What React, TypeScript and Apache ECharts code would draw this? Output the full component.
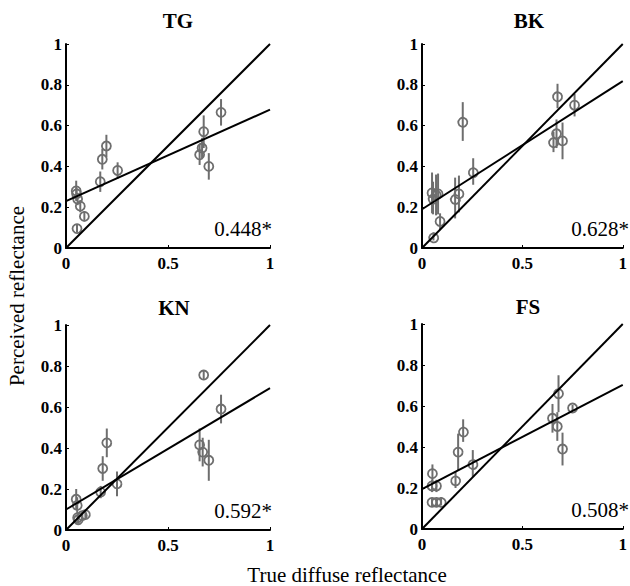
import React, { useEffect, useRef } from "react";
import * as echarts from "echarts";

const panelNames = ["TG", "BK", "KN", "FS"];
const slopeLabels = ["0.448*", "0.628*", "0.592*", "0.508*"];
const fitSlope = [0.448, 0.628, 0.592, 0.508];
const fitIntercept = [0.23, 0.19, 0.1, 0.195];
const xTicks = [0, 0.5, 1];
const yTicks = [0, 0.2, 0.4, 0.6, 0.8, 1];

const tgX = [0.05, 0.052, 0.057, 0.07, 0.09, 0.054, 0.168, 0.178, 0.198, 0.253, 0.655, 0.667, 0.675, 0.7, 0.76];
const tgY = [0.28, 0.265, 0.24, 0.205, 0.155, 0.095, 0.325, 0.435, 0.5, 0.38, 0.457, 0.49, 0.57, 0.4, 0.665];
const tgErr = [0.05, 0.03, 0.03, 0.03, 0.025, 0.02, 0.05, 0.05, 0.055, 0.04, 0.05, 0.05, 0.08, 0.065, 0.065];

const bkX = [0.05, 0.055, 0.07, 0.08, 0.09, 0.057, 0.165, 0.184, 0.203, 0.255, 0.655, 0.67, 0.675, 0.7, 0.76];
const bkY = [0.27, 0.245, 0.26, 0.265, 0.13, 0.057, 0.245, 0.265, 0.62, 0.375, 0.52, 0.56, 0.745, 0.525, 0.7];
const bkErr = [0.1, 0.08, 0.1, 0.1, 0.04, 0.02, 0.1, 0.09, 0.095, 0.065, 0.05, 0.07, 0.06, 0.09, 0.055];

const knX = [0.05, 0.055, 0.06, 0.08, 0.095, 0.057, 0.17, 0.18, 0.2, 0.25, 0.655, 0.67, 0.675, 0.7, 0.76];
const knY = [0.15, 0.12, 0.05, 0.07, 0.075, 0.06, 0.185, 0.3, 0.425, 0.225, 0.415, 0.38, 0.756, 0.34, 0.59];
const knErr = [0.05, 0.04, 0.02, 0.02, 0.02, 0.02, 0.03, 0.06, 0.07, 0.06, 0.08, 0.07, 0.02, 0.1, 0.07];

const fsX = [0.052, 0.05, 0.072, 0.05, 0.072, 0.095, 0.167, 0.18, 0.205, 0.253, 0.65, 0.674, 0.68, 0.7, 0.75];
const fsY = [0.27, 0.21, 0.21, 0.13, 0.13, 0.135, 0.24, 0.375, 0.48, 0.32, 0.54, 0.5, 0.66, 0.39, 0.59];
const fsErr = [0.045, 0.03, 0.03, 0.02, 0.02, 0.02, 0.04, 0.09, 0.055, 0.065, 0.07, 0.07, 0.09, 0.08, 0.015];

const panelX = [tgX, bkX, knX, fsX];
const panelY = [tgY, bkY, knY, fsY];
const panelErr = [tgErr, bkErr, knErr, fsErr];

const FONT = "'Liberation Serif', 'Times New Roman', serif";
const GRAY = "#6e6e6e";

const grids = [
  { left: 66, top: 44, width: 204, height: 204 },
  { left: 422, top: 44, width: 205, height: 204 },
  { left: 66, top: 325, width: 204, height: 205 },
  { left: 422, top: 324, width: 205, height: 205 },
];

const titlePos = [
  [178, 21],
  [529, 21],
  [174, 308],
  [528, 307],
];

const fmt = (v: number) => String(Math.round(v * 10) / 10);

export default function App() {
  const ref = useRef<HTMLDivElement>(null);
  useEffect(() => {
    if (!ref.current) return;
    const chart = echarts.init(ref.current, undefined, { renderer: "svg" });
    const xAxis: any[] = [];
    const yAxis: any[] = [];
    const series: any[] = [];
    const graphic: any[] = [];
    grids.forEach((g, i) => {
      xAxis.push({
        type: "value",
        gridIndex: i,
        min: 0,
        max: 1,
        interval: 0.5,
        splitLine: { show: false },
        axisLine: { lineStyle: { color: "#000", width: 2 } },
        axisTick: { inside: true, length: 3, lineStyle: { color: "#000" } },
        axisLabel: {
          color: "#000",
          fontFamily: FONT,
          fontWeight: "bold",
          fontSize: 17,
          margin: 7,
          formatter: fmt,
        },
      });
      yAxis.push({
        type: "value",
        gridIndex: i,
        min: 0,
        max: 1,
        interval: 0.2,
        splitLine: { show: false },
        axisLine: { lineStyle: { color: "#000", width: 2 } },
        axisTick: { inside: true, length: 3, lineStyle: { color: "#000" } },
        axisLabel: {
          color: "#000",
          fontFamily: FONT,
          fontWeight: "bold",
          fontSize: 17,
          margin: 4,
          formatter: fmt,
        },
      });
      const data = panelX[i].map((x, k) => [x, panelY[i][k], panelErr[i][k]]);
      series.push({
        type: "custom",
        xAxisIndex: i,
        yAxisIndex: i,
        data,
        z: 2,
        renderItem: (params: any, api: any) => {
          const x = api.value(0);
          const y = api.value(1);
          const e = api.value(2);
          const p = api.coord([x, y]);
          const lo = api.coord([x, y - e]);
          const hi = api.coord([x, y + e]);
          return {
            type: "group",
            children: [
              {
                type: "line",
                shape: { x1: lo[0], y1: lo[1], x2: hi[0], y2: hi[1] },
                style: { stroke: GRAY, lineWidth: 2 },
              },
              {
                type: "circle",
                shape: { cx: p[0], cy: p[1], r: 4.5 },
                style: { fill: "none", stroke: GRAY, lineWidth: 1.8 },
              },
            ],
          };
        },
      });
      series.push({
        type: "line",
        xAxisIndex: i,
        yAxisIndex: i,
        data: [
          [0, 0],
          [1, 1],
        ],
        showSymbol: false,
        z: 3,
        lineStyle: { color: "#000", width: 2 },
      });
      series.push({
        type: "line",
        xAxisIndex: i,
        yAxisIndex: i,
        data: [
          [0, fitIntercept[i]],
          [1, fitIntercept[i] + fitSlope[i]],
        ],
        showSymbol: false,
        z: 3,
        lineStyle: { color: "#000", width: 2 },
      });
      graphic.push({
        type: "text",
        x: titlePos[i][0],
        y: titlePos[i][1],
        style: {
          text: panelNames[i],
          fill: "#000",
          font: `bold 21px ${FONT}`,
          align: "center",
          verticalAlign: "middle",
        },
      });
      graphic.push({
        type: "text",
        x: g.left + g.width + 2,
        y: g.top + g.height - 19,
        style: {
          text: slopeLabels[i],
          fill: "#000",
          font: `21px ${FONT}`,
          align: "right",
          verticalAlign: "middle",
        },
      });
    });
    graphic.push({
      type: "text",
      x: 17,
      y: 296,
      rotation: Math.PI / 2,
      style: {
        text: "Perceived reflectance",
        fill: "#000",
        font: `21px ${FONT}`,
        align: "center",
        verticalAlign: "middle",
      },
    });
    graphic.push({
      type: "text",
      x: 347,
      y: 575,
      style: {
        text: "True diffuse reflectance",
        fill: "#000",
        font: `21px ${FONT}`,
        align: "center",
        verticalAlign: "middle",
      },
    });
    chart.setOption({
      animation: false,
      backgroundColor: "#fff",
      grid: grids.map((g) => ({ ...g, containLabel: false })),
      xAxis,
      yAxis,
      series,
      graphic,
    });
    return () => chart.dispose();
  }, []);
  return (
    <div
      ref={ref}
      style={{ position: "absolute", left: 0, top: 0, width: 630, height: 586 }}
    />
  );
}
